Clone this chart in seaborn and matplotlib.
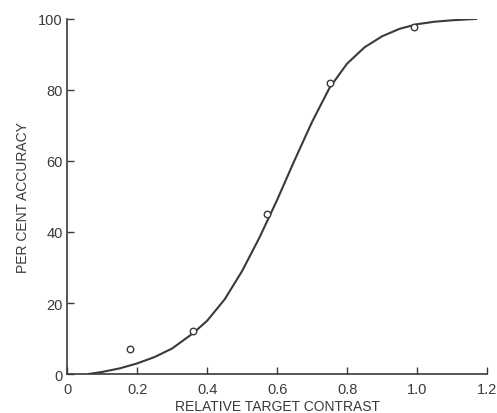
import matplotlib
matplotlib.use("Agg")
import matplotlib.pyplot as plt
import pandas as pd
import seaborn as sns

sns.set_theme(style="ticks")
plt.rcParams["font.family"] = ["Liberation Sans", "DejaVu Sans"]

INK = "#3a3a3a"

# measured points (open circles)
point_contrast = [0.18, 0.36, 0.57, 0.75, 0.99]
point_accuracy = [7, 12, 45, 82, 97.7]

# fitted curve
curve_contrast = [0.06, 0.10, 0.15, 0.20, 0.25, 0.30, 0.36, 0.40, 0.45, 0.50,
                  0.55, 0.60, 0.65, 0.70, 0.75, 0.80, 0.85, 0.90, 0.95, 1.00,
                  1.05, 1.10, 1.17]
curve_accuracy = [0.0, 0.6, 1.6, 3.0, 4.8, 7.2, 11.5, 15, 21, 29,
                  38.5, 49, 60.2, 71, 80.6, 87.4, 92, 95.1, 97.2, 98.5,
                  99.2, 99.6, 100]

x_ticks = [0, 0.2, 0.4, 0.6, 0.8, 1.0, 1.2]
x_labels = ["0", "0.2", "0.4", "0.6", "0.8", "1.0", "1.2"]
y_ticks = [0, 20, 40, 60, 80, 100]


def main() -> None:
    curve = pd.DataFrame({"x": curve_contrast, "y": curve_accuracy})
    points = pd.DataFrame({"x": point_contrast, "y": point_accuracy})

    fig = plt.figure(figsize=(4.97, 4.14), dpi=100)
    ax = fig.add_axes([0.135, 0.094, 0.845, 0.858])

    sns.lineplot(data=curve, x="x", y="y", ax=ax, color=INK, linewidth=1.5,
                 sort=True, solid_joinstyle="round", solid_capstyle="round")
    sns.scatterplot(data=points, x="x", y="y", ax=ax, s=22, marker="o",
                    facecolor="white", edgecolor=INK, linewidth=1.0, zorder=3)

    ax.set_xlim(0, 1.2)
    ax.set_ylim(0, 100)
    ax.set_xticks(x_ticks)
    ax.set_xticklabels(x_labels)
    ax.set_yticks(y_ticks)
    ax.tick_params(direction="in", length=5, width=1, color=INK,
                   labelcolor=INK, labelsize=10.5)
    ax.tick_params(axis="x", pad=6)
    ax.tick_params(axis="y", pad=3)
    for side in ("top", "right"):
        ax.spines[side].set_visible(False)
    for side in ("left", "bottom"):
        ax.spines[side].set_color(INK)
        ax.spines[side].set_linewidth(1.2)

    ax.set_xlabel("RELATIVE TARGET CONTRAST", color=INK, fontsize=10,
                  labelpad=2)
    ax.set_ylabel("PER CENT ACCURACY", color=INK, fontsize=10, labelpad=6)

    fig.savefig("out.png", dpi=100, facecolor="white")
    plt.close(fig)


if __name__ == "__main__":
    main()
